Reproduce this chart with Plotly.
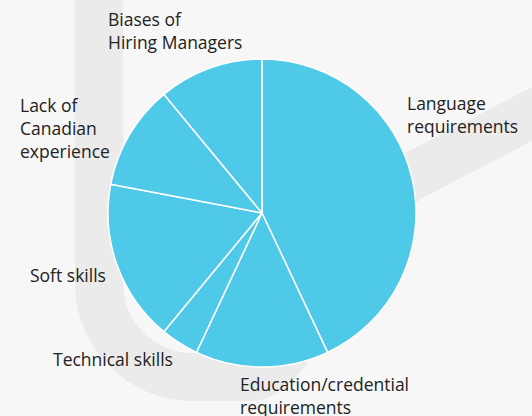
import plotly.graph_objects as go

# ---- data ----
categories = ["Language requirements", "Education/credential requirements", "Technical skills",
              "Soft skills", "Lack of Canadian experience", "Biases of Hiring Managers"]
values = [43, 14, 4, 17, 11, 11]
label_text = ["Language<br>requirements", "Education/credential<br>requirements", "Technical skills",
              "Soft skills", "Lack of<br>Canadian<br>experience", "Biases of<br>Hiring Managers"]

# ---- layout helpers ----
W, H = 532, 416
def px(x):
    return x / W
def py(y):
    return 1 - y / H

BG = "#f7f7f7"
BAND = "#ebebeb"
PIE = "#4fc9e8"
TXT = "#222222"
FONT = "Open Sans"

fig = go.Figure()
fig.add_trace(go.Pie(
    labels=categories, values=values, sort=False, direction="clockwise", rotation=0,
    marker=dict(colors=[PIE] * len(values), line=dict(color="white", width=1.5)),
    textinfo="none", hoverinfo="label+percent", showlegend=False,
    domain=dict(x=[px(108), px(416)], y=[py(367), py(59)]),
))

# decorative background band
pts = [(99, -40), (99, 283), (99, 335), (141, 377), (193, 377), (250, 377),
       (300, 377), (330, 230), (411, 177), (580, 89)]
def P(i):
    x, y = pts[i]
    return f"{px(x):.5f},{py(y):.5f}"
path = (f"M {P(0)} L {P(1)} C {P(2)} {P(3)} {P(4)} L {P(5)} "
        f"C {P(6)} {P(7)} {P(8)} L {P(9)}")
fig.add_shape(type="path", path=path, xref="paper", yref="paper", layer="below",
              line=dict(color=BAND, width=48), fillcolor="rgba(0,0,0,0)")

# label positions (px): left x, vertical centre
label_pos = [(405, 114), (238, 395), (51, 359), (28, 275), (18, 128), (106, 31)]
for txt, (x, y) in zip(label_text, label_pos):
    fig.add_annotation(text=txt, x=px(x), y=py(y), xref="paper", yref="paper",
                       xanchor="left", yanchor="middle", align="left", showarrow=False,
                       font=dict(family=FONT, size=17.5, color=TXT))

fig.update_layout(width=W, height=H, margin=dict(l=0, r=0, t=0, b=0),
                  paper_bgcolor=BG, plot_bgcolor=BG)
fig.write_html("out.html", config={"displayModeBar": False},
               post_script="document.body.style.margin='0';document.body.style.background='#f7f7f7';")
